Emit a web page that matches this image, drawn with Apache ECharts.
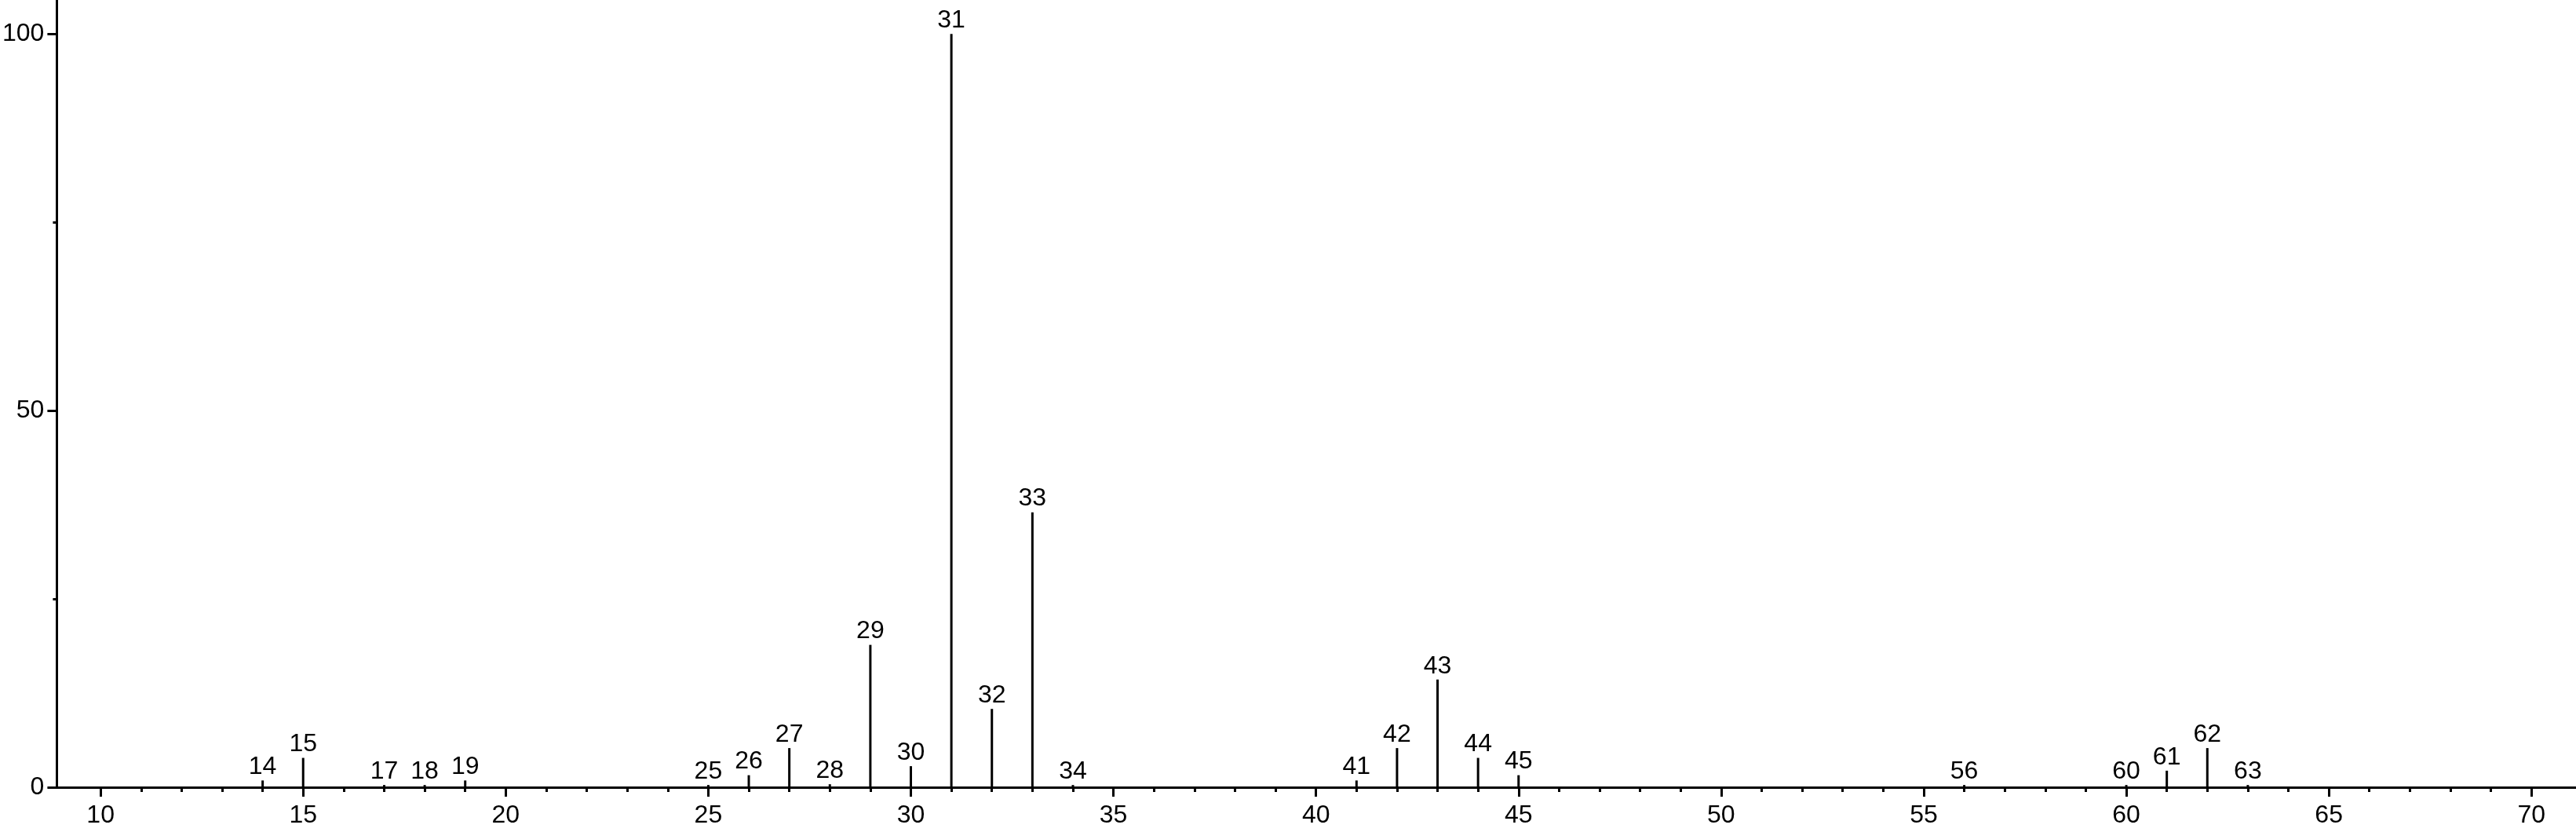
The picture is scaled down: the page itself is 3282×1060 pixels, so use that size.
<!DOCTYPE html>
<html>
<head>
<meta charset="utf-8">
<script src="https://cdn.jsdelivr.net/npm/echarts@6/dist/echarts.min.js"></script>
<style>
  html, body { margin: 0; padding: 0; background: #fff; }
  #chart { width: 3282px; height: 1060px; }
</style>
</head>
<body>
<div id="chart"></div>
<script>
// m/z peaks and relative intensities
var masses = [14, 15, 17, 18, 19, 25, 26, 27, 28, 29, 30, 31, 32, 33, 34, 41, 42, 43, 44, 45, 56, 60, 61, 62, 63];
var intensities = [0.9, 3.9, 0.3, 0.3, 0.9, 0.3, 1.6, 5.2, 0.4, 18.9, 2.8, 100, 10.4, 36.5, 0.3, 0.9, 5.2, 14.3, 3.9, 1.6, 0.3, 0.3, 2.2, 5.2, 0.3];

// axis ticks
var xMajor = [10, 15, 20, 25, 30, 35, 40, 45, 50, 55, 60, 65, 70];
var xMinor = [11, 12, 13, 14, 16, 17, 18, 19, 21, 22, 23, 24, 26, 27, 28, 29, 31, 32, 33, 34,
  36, 37, 38, 39, 41, 42, 43, 44, 46, 47, 48, 49, 51, 52, 53, 54, 56, 57, 58, 59,
  61, 62, 63, 64, 66, 67, 68, 69];
var yMajor = [0, 50, 100];
var yMinor = [25, 75];

var peaks = masses.map(function (m, i) { return [m, intensities[i]]; });

var font = "'Liberation Sans', Arial, sans-serif";
var black = "#000";

var option = {
  backgroundColor: "#fff",
  animation: false,
  grid: { left: 69, right: 0, top: 0, bottom: 57 },
  xAxis: [
    {
      type: "value",
      min: 8.92,
      max: 71.1,
      axisLine: { show: true, lineStyle: { color: black, width: 3 } },
      axisTick: { show: true, customValues: xMajor, length: 12, lineStyle: { color: black, width: 3 } },
      axisLabel: { customValues: xMajor, color: black, fontSize: 32, fontFamily: font, margin: 20 },
      splitLine: { show: false }
    },
    {
      type: "value",
      min: 8.92,
      max: 71.1,
      position: "bottom",
      axisLine: { show: false },
      axisTick: { show: true, customValues: xMinor, length: 6, lineStyle: { color: black, width: 3 } },
      axisLabel: { show: false },
      splitLine: { show: false }
    }
  ],
  yAxis: [
    {
      type: "value",
      min: 0,
      max: 104.5,
      axisLine: { show: true, lineStyle: { color: black, width: 3 } },
      axisTick: { show: true, customValues: yMajor, length: 12, lineStyle: { color: black, width: 3 } },
      axisLabel: { customValues: yMajor, color: black, fontSize: 32, fontFamily: font, margin: 16 },
      splitLine: { show: false }
    },
    {
      type: "value",
      min: 0,
      max: 104.5,
      position: "left",
      axisLine: { show: false },
      axisTick: { show: true, customValues: yMinor, length: 5, lineStyle: { color: black, width: 3 } },
      axisLabel: { show: false },
      splitLine: { show: false }
    }
  ],
  series: [
    {
      type: "bar",
      xAxisIndex: 0,
      yAxisIndex: 0,
      barWidth: 3,
      itemStyle: { color: black },
      label: {
        show: true,
        position: "top",
        distance: 1,
        color: black,
        fontSize: 32,
        fontFamily: font,
        formatter: function (p) { return p.value[0]; }
      },
      data: peaks
    }
  ]
};

var chart = echarts.init(document.getElementById("chart"));
chart.setOption(option);
</script>
</body>
</html>
